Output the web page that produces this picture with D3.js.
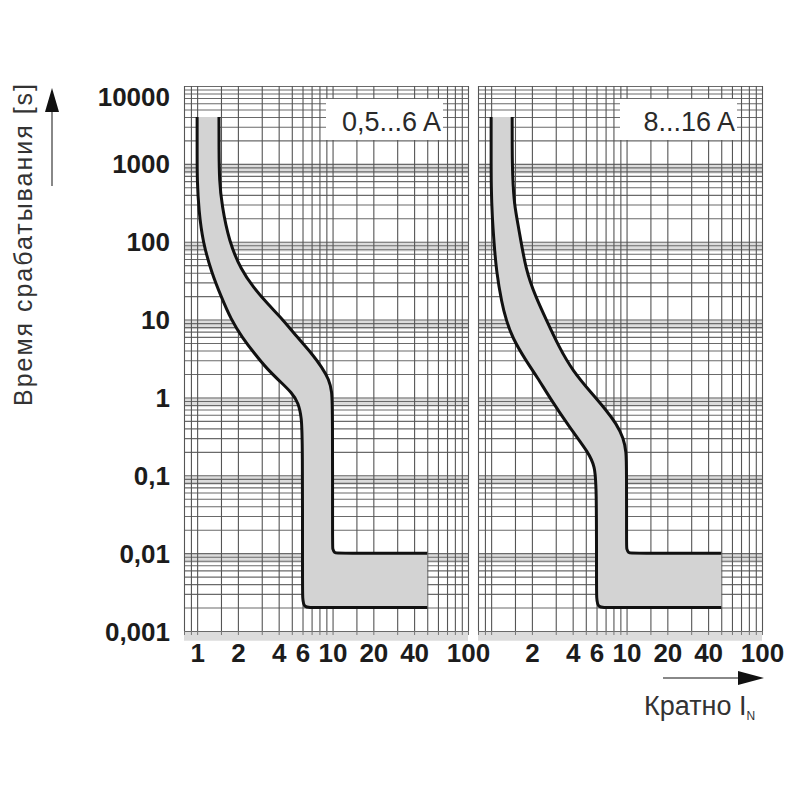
<!DOCTYPE html>
<html>
<head>
<meta charset="utf-8">
<script src="https://cdn.jsdelivr.net/npm/d3@7"></script>
<style>
  body { margin: 0; background: #fff; }
  text { font-family: "Liberation Sans", Arial, sans-serif; }
</style>
</head>
<body>
<div id="chart"></div>
<script>
// values
const timeDecades = [10000, 1000, 100, 10, 1, 0.1, 0.01, 0.001];
const timeLabels = ["10000", "1000", "100", "10", "1", "0,1", "0,01", "0,001"];
const multGrid = [0.8, 0.9, 1, 1.5, 2, 3, 4, 5, 6, 7, 8, 9, 10, 15, 20, 30, 40, 50, 60, 70, 80, 90, 100];
const multTicksLeft = [1, 2, 4, 6, 10, 20, 40, 100];
const multTicksRight = [2, 4, 6, 10, 20, 40, 100];
const panelTitles = ["0,5...6 A", "8...16 A"];

// [multiple of In, trip time in s]
const lowerSmall = [[1.0, 4000], [1.0, 1500], [1.0, 600], [1.03, 250], [1.1, 100], [1.28, 40], [1.5, 20],
    [1.78, 10], [2.15, 5.9], [2.64, 3.7], [3.3, 2.3], [4.1, 1.6], [5.0, 1.15], [5.6, 0.85], [5.9, 0.55],
    [6.0, 0.3], [6.0, 0.004], [6.0, 0.0026], [6.15, 0.002], [7, 0.002], [50, 0.002]];
const upperSmall = [[1.45, 4000], [1.45, 1500], [1.46, 600], [1.52, 300], [1.72, 100], [2.12, 43], [2.6, 26],
    [3.3, 16], [4.3, 10], [5.5, 5.9], [7.0, 3.7], [8.4, 2.4], [9.4, 1.7], [9.9, 1.2], [10, 0.7],
    [10, 0.012], [10, 0.0115], [10.3, 0.01], [11, 0.01], [50, 0.01]];
const lowerLarge = [[1.0, 4000], [1.0, 1500], [1.0, 500], [1.02, 200], [1.05, 100], [1.09, 43], [1.2, 16],
    [1.29, 10], [1.43, 5.9], [1.8, 3], [2.2, 1.8], [2.7, 1], [3.8, 0.41], [5.3, 0.19], [5.8, 0.13],
    [6.0, 0.08], [6.0, 0.004], [6.0, 0.0026], [6.15, 0.002], [7, 0.002], [50, 0.002]];
const upperLarge = [[1.43, 4000], [1.43, 1500], [1.44, 700], [1.48, 300], [1.6, 150], [1.8, 43], [2.15, 19],
    [2.55, 10], [3.18, 4.4], [4.0, 2.2], [5.6, 1.1], [7.1, 0.68], [8.4, 0.46], [9.5, 0.3], [9.95, 0.2],
    [10, 0.12], [10, 0.012], [10, 0.0115], [10.3, 0.01], [11, 0.01], [50, 0.01]];

const panels = [
    { title: panelTitles[0], ticks: multTicksLeft, lower: lowerSmall, upper: upperSmall, range: [184, 468] },
    { title: panelTitles[1], ticks: multTicksRight, lower: lowerLarge, upper: upperLarge, range: [478, 762] }
];

// minor grid values for the time axis
let timeGrid = [10000];
for (let e = -3; e <= 3; e++) {
    for (let k = 1; k <= 9; k++) timeGrid.push(+(k * Math.pow(10, e)).toPrecision(3));
}

const svg = d3.select("#chart").append("svg")
    .attr("width", 800)
    .attr("height", 800);

const y = d3.scaleLog()
    .domain([0.001, 10000])
    .range([631, 86]);

panels.forEach((p, i) => {
    let x = d3.scaleLog()
        .domain([0.8, 100])
        .range(p.range);

    let g = svg.append("g");

    // shaded bands under each decade line
    g.selectAll(".band")
        .data(timeDecades.slice(1))
        .enter()
        .append("rect")
        .attr("x", x(0.8))
        .attr("width", x(100) - x(0.8))
        .attr("y", d => y(d))
        .attr("height", d => y(d * 0.75) - y(d))
        .attr("fill", "#dcdcdc");

    // horizontal grid
    g.append("g")
        .attr("transform", "translate(" + x(0.8) + ",0)")
        .call(d3.axisLeft(y).tickValues(timeGrid).tickSize(-(x(100) - x(0.8))).tickFormat(""))
        .call(a => a.select(".domain").remove())
        .selectAll("line")
        .attr("stroke", "#6a6a6a")
        .attr("stroke-width", 1.1);

    // vertical grid
    g.append("g")
        .attr("transform", "translate(0," + y(0.001) + ")")
        .call(d3.axisBottom(x).tickValues(multGrid).tickSize(-(y(0.001) - y(10000))).tickFormat(""))
        .call(a => a.select(".domain").remove())
        .selectAll("line")
        .attr("stroke", "#555")
        .attr("stroke-width", 1.1);

    // small ticks below the panel
    g.append("g")
        .attr("transform", "translate(0," + y(0.001) + ")")
        .call(d3.axisBottom(x).tickValues(multGrid).tickSize(4).tickFormat(""))
        .call(a => a.select(".domain").remove())
        .selectAll("line")
        .attr("stroke", "#777");

    // tick labels
    g.append("g")
        .attr("transform", "translate(0," + y(0.001) + ")")
        .call(d3.axisBottom(x).tickValues(p.ticks).tickSize(0).tickPadding(13).tickFormat(d3.format("d")))
        .call(a => a.select(".domain").remove())
        .selectAll("text")
        .attr("font-size", 26)
        .attr("font-weight", "bold")
        .attr("fill", "#1c1c1c")
        .attr("font-family", "Liberation Sans, Arial, sans-serif");

    // tripping band
    let line = d3.line()
        .x(d => x(d[0]))
        .y(d => y(d[1]))
        .curve(d3.curveBasis);

    let fillPath = line(p.lower) + line(p.upper.slice().reverse()).replace(/^M/, "L") + "Z";

    g.append("path")
        .attr("d", fillPath)
        .attr("fill", "#d3d3d3");

    [p.lower, p.upper].forEach(c => {
        g.append("path")
            .attr("d", line(c))
            .attr("fill", "none")
            .attr("stroke", "#111")
            .attr("stroke-width", 3);
    });

    // panel title
    let boxRight = x(100) - 25;
    g.append("rect")
        .attr("x", boxRight - 117)
        .attr("y", 99)
        .attr("width", 117)
        .attr("height", 41)
        .attr("fill", "#fff");

    g.append("text")
        .attr("x", boxRight - 2)
        .attr("y", 131)
        .attr("text-anchor", "end")
        .attr("font-size", 27)
        .attr("fill", "#2a2a2a")
        .text(p.title);
});

// time labels on the left
let yLabels = svg.append("g")
    .attr("transform", "translate(184,0)")
    .call(d3.axisLeft(y).tickValues(timeDecades).tickSize(0).tickPadding(14)
        .tickFormat((d, i) => timeLabels[i]));
yLabels.select(".domain").remove();
yLabels.selectAll("text")
    .attr("font-size", 26)
    .attr("font-weight", "bold")
    .attr("fill", "#1c1c1c")
    .attr("font-family", "Liberation Sans, Arial, sans-serif")
    .attr("dy", (d, i) => i === 0 ? "0.75em" : "0.35em");

// axis titles and arrows
svg.append("text")
    .attr("transform", "translate(32,245) rotate(-90)")
    .attr("text-anchor", "middle")
    .attr("font-size", 25)
    .attr("fill", "#333")
    .attr("textLength", 322)
    .attr("lengthAdjust", "spacing")
    .text("Время срабатывания [s]");

svg.append("line")
    .attr("x1", 52).attr("x2", 52)
    .attr("y1", 186).attr("y2", 108)
    .attr("stroke", "#888")
    .attr("stroke-width", 2);
svg.append("path")
    .attr("d", "M52,88 L45,112 L59,112 Z")
    .attr("fill", "#111");

svg.append("line")
    .attr("x1", 663).attr("x2", 742)
    .attr("y1", 678).attr("y2", 678)
    .attr("stroke", "#888")
    .attr("stroke-width", 2);
svg.append("path")
    .attr("d", "M764,678 L738,671 L738,685 Z")
    .attr("fill", "#111");

let xTitle = svg.append("text")
    .attr("x", 644)
    .attr("y", 715)
    .attr("font-size", 27)
    .attr("fill", "#333");
xTitle.append("tspan").text("Кратно I");
xTitle.append("tspan").attr("font-size", 12).attr("dy", 5).text("N");
</script>
</body>
</html>
